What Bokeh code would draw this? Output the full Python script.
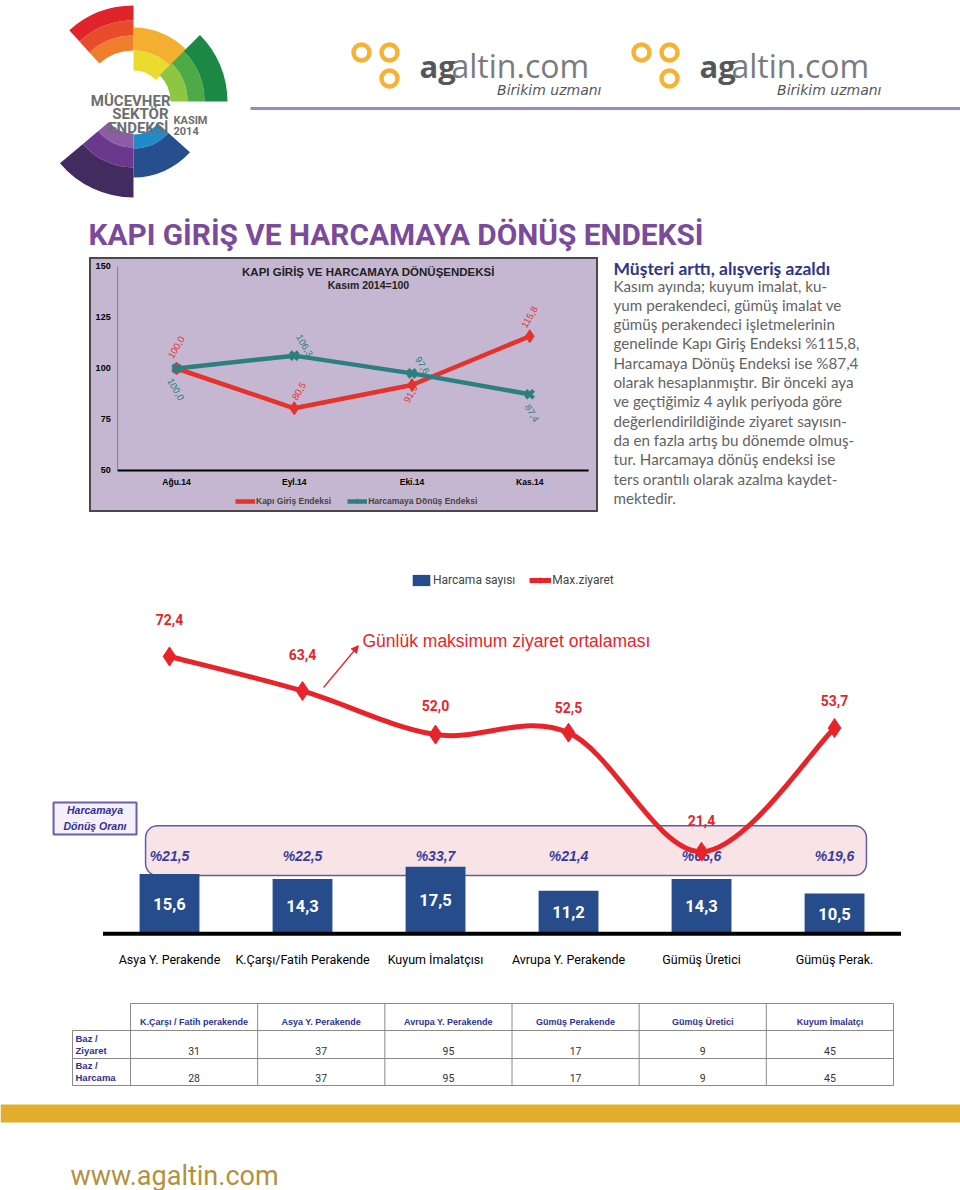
import math
from bokeh.plotting import figure
from bokeh.layouts import column, row
from bokeh.models import Range1d, FixedTicker, Legend, LegendItem, Arrow, NormalHead
from bokeh.core.properties import value
from bokeh.embed import file_html
from bokeh.resources import INLINE

# ---------------- data ----------------
months = ["Ağu.14", "Eyl.14", "Eki.14", "Kas.14"]
kapi_giris = [100.0, 80.5, 91.9, 115.8]
harcamaya_donus = [100.0, 106.3, 97.6, 87.4]
chart1_yticks = [50, 75, 100, 125, 150]

segments = ["Asya Y. Perakende", "K.Çarşı/Fatih Perakende", "Kuyum İmalatçısı",
            "Avrupa Y. Perakende", "Gümüş Üretici", "Gümüş Perak."]
harcama_sayisi = [15.6, 14.3, 17.5, 11.2, 14.3, 10.5]
max_ziyaret = [72.4, 63.4, 52.0, 52.5, 21.4, 53.7]
donus_orani = [21.5, 22.5, 33.7, 21.4, 66.6, 19.6]

table_columns = ["K.Çarşı / Fatih perakende", "Asya Y. Perakende", "Avrupa Y. Perakende",
                 "Gümüş Perakende", "Gümüş Üretici", "Kuyum İmalatçı"]
table_row_labels = [("Baz /", "Ziyaret"), ("Baz /", "Harcama")]
baz_ziyaret = [31, 37, 95, 17, 9, 45]
baz_harcama = [28, 37, 95, 17, 9, 45]

body_lines = [
    "Kasım ayında; kuyum imalat, ku-",
    "yum perakendeci, gümüş imalat ve",
    "gümüş perakendeci işletmelerinin",
    "genelinde Kapı Giriş Endeksi %115,8,",
    "Harcamaya Dönüş Endeksi ise %87,4",
    "olarak hesaplanmıştır. Bir önceki aya",
    "ve geçtiğimiz 4 aylık periyoda göre",
    "değerlendirildiğinde ziyaret sayısın-",
    "da en fazla artış bu dönemde olmuş-",
    "tur. Harcamaya dönüş endeksi ise",
    "ters orantılı olarak azalma kaydet-",
    "mektedir.",
]


def fmt(v):
    return f"{v:.1f}".replace(".", ",")


COND = "Roboto"
SANS = "Liberation Sans"


def txt(p, x, y, s, size, color, font=SANS, style="normal", align="left",
        baseline="middle", angle=0.0, xo=0, yo=0):
    xs = x if isinstance(x, list) else [x]
    ys = y if isinstance(y, list) else [y]
    ss = s if isinstance(s, list) else [s]
    return p.text(x=xs, y=ys, text=ss, text_font=value(font), text_font_size=f"{size}px",
                  text_color=color, text_font_style=style, text_align=align,
                  text_baseline=baseline, angle=angle, x_offset=xo, y_offset=yo)


def canvas(w, h, x0, x1, top, bottom, bg="white", **kw):
    p = figure(width=w, height=h, x_range=Range1d(x0, x1), y_range=Range1d(-bottom, -top),
               output_backend="svg", toolbar_location=None, x_axis_location=None,
               y_axis_location=None, min_border=0, background_fill_color=bg,
               border_fill_color=bg, outline_line_color=None, **kw)
    p.xgrid.visible = False
    p.ygrid.visible = False
    return p


W = 960

# ---------------- header ----------------
hd = canvas(W, 257, 0, 960, 0, 257)
cx, cy = 133, -101
logo = [
    (90, 132, [(51, 66, "#EF7D2E"), (66, 81, "#E84C2B"), (81, 96, "#E1242A")]),
    (44, 90, [(31, 51, "#EADB2E"), (51, 74, "#F4AE30")]),
    (0, 45, [(37, 54, "#8DC640"), (54, 71, "#4EA947"), (71, 94, "#1B8943")]),
    (-90, -42, [(33, 47, "#1F8BC9"), (47, 76, "#274F8E")]),
    (-140, -90, [(32, 46, "#8C5DA5"), (46, 66, "#6A398D"), (66, 96, "#422B5F")]),
]
for a0, a1, bands in logo:
    for r0, r1, col in bands:
        hd.annular_wedge(x=cx, y=cy, inner_radius=r0, outer_radius=r1,
                         start_angle=math.radians(a0), end_angle=math.radians(a1),
                         fill_color=col, line_color=None)
LOGO_GRAY = "#6D6E70"
txt(hd, 170, -100, "MÜCEVHER", 15, LOGO_GRAY, COND, "bold", "right", "alphabetic")
txt(hd, 168, -113.5, "SEKTÖR", 15, LOGO_GRAY, COND, "bold", "right", "alphabetic")
txt(hd, 168, -127.5, "ENDEKSİ", 15, LOGO_GRAY, COND, "bold", "right", "alphabetic")
txt(hd, 173, -120, "KASIM", 11, LOGO_GRAY, COND, "bold", "left", "alphabetic")
txt(hd, 173, -130, "2014", 11, LOGO_GRAY, COND, "bold", "left", "alphabetic")

for o in (0, 280):
    hd.circle(x=[361 + o, 389 + o, 389 + o], y=[-52, -52, -78], radius=8,
              fill_color=None, line_color="#F6B232", line_width=4.5)
    txt(hd, 419 + o, -65, "ag", 31, "#56575A", "Open Sans", "bold", "left", "alphabetic")
    txt(hd, 451 + o, -65, "altin.com", 32, "#7A7B7E", "Open Sans", "normal", "left", "alphabetic")
    txt(hd, 601 + o, -89, "Birikim uzmanı", 14, "#56575A", "DejaVu Sans", "italic", "right",
        "alphabetic")

hd.segment(x0=250, y0=-108, x1=960, y1=-108, line_color="#A089BC", line_width=3)
txt(hd, 88, -234, "KAPI GİRİŞ VE HARCAMAYA DÖNÜŞ ENDEKSİ", 29.8, "#7B4A9C", COND, "bold",
    "left", "alphabetic")

# ---------------- chart 1 (frame = whole box) ----------------
LAV = "#C5B7D1"
spacer = canvas(89, 255, 0, 89, 0, 255)
idx1 = list(range(len(months)))
c1 = figure(width=509, height=255, x_range=Range1d(-0.739, 3.584),
            y_range=Range1d(29.41, 154.41),
            output_backend="svg", toolbar_location=None, x_axis_location=None,
            y_axis_location=None, min_border=0,
            background_fill_color=LAV, border_fill_color=LAV,
            outline_line_color="#4A4A4A", outline_line_width=3)
c1.xgrid.visible = False
c1.ygrid.visible = False

lo, hi = chart1_yticks[0], chart1_yticks[-1]
c1.segment(x0=-0.5, y0=lo, x1=-0.5, y1=hi, line_color="#808080", line_width=1)
c1.segment(x0=-0.5, y0=lo, x1=len(months) - 0.5, y1=lo, line_color="black", line_width=2)
txt(c1, [-0.5] * len(chart1_yticks), chart1_yticks, [str(t) for t in chart1_yticks], 9,
    "black", SANS, "bold", "right", "middle", 0, -7, 0)
txt(c1, idx1, [lo] * len(months), months, 8.5, "black", SANS, "bold", "center", "middle",
    0, 0, 12)

RED1, TEAL1 = "#E5322B", "#2C7F80"
rl = c1.line(idx1, kapi_giris, line_color=RED1, line_width=4.5)
rm = c1.scatter(idx1, kapi_giris, marker="diamond", size=13, color=RED1)
tl = c1.line(idx1, harcamaya_donus, line_color=TEAL1, line_width=4.5)
tm = c1.scatter(idx1, harcamaya_donus, marker="x", size=11, line_color=TEAL1, line_width=4)

red_off = [(0, -21), (5, -17), (-1, 9), (0, -19)]
teal_off = [(-1, 21), (10, -10), (10, -8), (2, 19)]
for i, v in enumerate(kapi_giris):
    txt(c1, i, v, fmt(v), 9.5, RED1, SANS, "normal", "center", "middle",
        math.pi / 3, red_off[i][0], red_off[i][1])
for i, v in enumerate(harcamaya_donus):
    txt(c1, i, v, fmt(v), 9.5, TEAL1, SANS, "normal", "center", "middle",
        -math.pi / 3, teal_off[i][0], teal_off[i][1])

txt(c1, 1.63, 147.5, "KAPI GİRİŞ VE HARCAMAYA DÖNÜŞENDEKSİ", 11.5, "#222222", SANS, "bold", "center")
txt(c1, 1.63, 140.7, "Kasım 2014=100", 10.5, "#222222", SANS, "bold", "center")

leg1 = Legend(items=[LegendItem(label="Kapı Giriş Endeksi", renderers=[rl, rm]),
                     LegendItem(label="Harcamaya Dönüş Endeksi", renderers=[tl, tm])],
              orientation="horizontal", location=(146, 6), padding=0, margin=0,
              spacing=16, glyph_width=20, glyph_height=10, label_standoff=1, label_height=10,
              label_text_font=SANS, label_text_font_size="8.5px", label_text_font_style="bold",
              border_line_color=None, background_fill_alpha=0)
c1.add_layout(leg1)

# ---------------- text column ----------------
tf = canvas(362, 255, 598, 960, 257, 512)
txt(tf, 613, -268, "Müşteri arttı, alışveriş azaldı", 17.5, "#2D3688", "Lato", "bold")
txt(tf, [613] * len(body_lines), [-(285 + 19.3 * k) for k in range(len(body_lines))],
    body_lines, 15.2, "#636365", "Lato")

# ---------------- chart 2 ----------------
n2 = len(segments)
idx2 = list(range(n2))
c2 = figure(width=W, height=478, x_range=Range1d(-1.2707, 5.947), y_range=Range1d(-1, 110),
            output_backend="svg", toolbar_location=None, y_axis_location=None,
            min_border_left=0, min_border_right=0, min_border_top=0, min_border_bottom=53,
            background_fill_color="white", border_fill_color="white", outline_line_color=None)
c2.xgrid.visible = False
c2.ygrid.visible = False
c2.xaxis.ticker = FixedTicker(ticks=idx2)
c2.xaxis.major_label_overrides = {i: s for i, s in enumerate(segments)}
c2.xaxis.axis_line_color = None
c2.xaxis.major_tick_line_color = None
c2.xaxis.minor_tick_line_color = None
c2.xaxis.major_label_standoff = 8
c2.xaxis.major_label_text_font = COND
c2.xaxis.major_label_text_font_size = "12.5px"
c2.xaxis.major_label_text_color = "black"

RED2, NAVY, PCT = "#E8242A", "#274C8B", "#3A3D99"
c2.quad(left=-0.18, right=n2 - 1 + 0.24, bottom=15.2, top=28.2, fill_color="#F8E3E6",
        line_color="#5C5FA8", line_width=1.5, border_radius=12)
c2.quad(left=-0.872, right=-0.248, bottom=25.9, top=34.25, fill_color="#F4EFF8",
        line_color="#6A5FAA", line_width=2)
txt(c2, -0.56, 32.2, "Harcamaya", 10.5, "#2E3192", SANS, "bold italic", "center")
txt(c2, -0.56, 28.0, "Dönüş Oranı", 10.5, "#2E3192", SANS, "bold italic", "center")

bars = c2.vbar(x=idx2, top=harcama_sayisi, bottom=0, width=0.45, fill_color=NAVY, line_color=None)
c2.segment(x0=-0.5, y0=0, x1=n2 - 0.5, y1=0, line_color="black", line_width=4)
txt(c2, idx2, [h / 2 for h in harcama_sayisi], [fmt(h) for h in harcama_sayisi],
    16.5, "white", COND, "bold", "center")
txt(c2, idx2, [20.4] * n2, ["%" + fmt(v) for v in donus_orani], 14, PCT, SANS,
    "bold italic", "center")

# smoothed (Catmull-Rom -> Bezier) line through the max-ziyaret points
x0s, y0s, x1s, y1s, cx0, cy0, cx1, cy1 = [], [], [], [], [], [], [], []
for i in range(n2 - 1):
    pp = i - 1 if i > 0 else i
    nn = i + 2 if i + 2 < n2 else i + 1
    x0s.append(idx2[i]); y0s.append(max_ziyaret[i])
    x1s.append(idx2[i + 1]); y1s.append(max_ziyaret[i + 1])
    cx0.append(idx2[i] + (idx2[i + 1] - idx2[pp]) / 6)
    cy0.append(max_ziyaret[i] + (max_ziyaret[i + 1] - max_ziyaret[pp]) / 6)
    cx1.append(idx2[i + 1] - (idx2[nn] - idx2[i]) / 6)
    cy1.append(max_ziyaret[i + 1] - (max_ziyaret[nn] - max_ziyaret[i]) / 6)
curve = c2.bezier(x0=x0s, y0=y0s, x1=x1s, y1=y1s, cx0=cx0, cy0=cy0, cx1=cx1, cy1=cy1,
                  line_color=RED2, line_width=5)
mk = c2.scatter(idx2, max_ziyaret, marker="diamond", size=19, color=RED2)
label_lift = [-37, -36, -29, -25, -31, -28]
for i, v in enumerate(max_ziyaret):
    txt(c2, i, v, fmt(v), 14, RED2, COND, "bold", "center", "middle", 0, 0, label_lift[i])

txt(c2, 1.451, 76.5, "Günlük maksimum ziyaret ortalaması", 17.5, RED2, SANS)
c2.add_layout(Arrow(end=NormalHead(size=7, fill_color=RED2, line_color=RED2),
                    x_start=1.158, y_start=64.3, x_end=1.42, y_end=75.2,
                    line_color=RED2, line_width=1.3))

leg2 = Legend(items=[LegendItem(label="Harcama sayısı", renderers=[bars]),
                     LegendItem(label="Max.ziyaret", renderers=[curve, mk])],
              orientation="horizontal", location=(410, 350), padding=0, margin=0,
              spacing=14, glyph_width=22, glyph_height=14, label_standoff=1, label_height=14,
              label_text_font=COND, label_text_font_size="12px",
              border_line_color=None, background_fill_alpha=0)
c2.add_layout(leg2)

# ---------------- table ----------------
tb = canvas(W, 105, 0, 960, 990, 1095)
ncol = len(table_columns)
x_left, x_lab, x_right = 72, 130, 893
cw = (x_right - x_lab) / ncol
edges = [x_lab + k * cw for k in range(ncol + 1)]
centers = [x_lab + (k + 0.5) * cw for k in range(ncol)]
GR = "#8A8A8A"
tb.segment(x0=[x_lab, x_left, x_left, x_left], y0=[-1003, -1030, -1058, -1085],
           x1=[x_right] * 4, y1=[-1003, -1030, -1058, -1085], line_color=GR, line_width=1)
tb.segment(x0=[x_left] + edges, y0=[-1030] + [-1003] * len(edges),
           x1=[x_left] + edges, y1=[-1085] * (len(edges) + 1), line_color=GR, line_width=1)
txt(tb, centers, [-1021] * ncol, table_columns, 9, "#2E3192", SANS, "bold", "center")
for vals, lab, yv in [(baz_ziyaret, table_row_labels[0], 1050),
                      (baz_harcama, table_row_labels[1], 1077)]:
    txt(tb, 75, -(yv - 12), lab[0], 9.5, "#2E3192", SANS, "bold")
    txt(tb, 75, -yv, lab[1], 9.5, "#2E3192", SANS, "bold")
    txt(tb, centers, [-yv] * ncol, [str(v) for v in vals], 10.5, "#333333", COND, "normal",
        "center")

# ---------------- footer ----------------
ft = canvas(W, 95, 0, 960, 1095, 1190)
ft.quad(left=0, right=960, top=-1104, bottom=-1122, fill_color="#E2AD2D", line_color=None)
txt(ft, 70, -1175, "www.agaltin.com", 27, "#B39140", COND, "normal", "left", "alphabetic")

page = column(hd, row(spacer, c1, tf, spacing=0), c2, tb, ft, spacing=0)
open("out.html", "w").write(file_html(page, INLINE))
